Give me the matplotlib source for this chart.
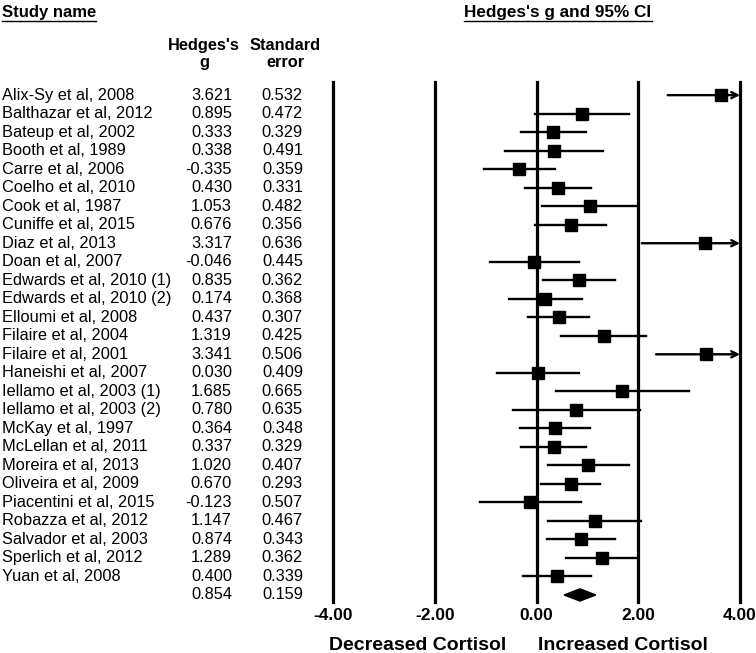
import matplotlib
matplotlib.use("Agg")
import matplotlib.pyplot as plt
from matplotlib.transforms import blended_transform_factory
from matplotlib.patches import Polygon
from matplotlib.lines import Line2D

plt.rcParams['font.family'] = ['Liberation Sans', 'DejaVu Sans']

# study data
studies = ["Alix-Sy et al, 2008", "Balthazar et al, 2012", "Bateup et al, 2002",
           "Booth et al, 1989", "Carre et al, 2006", "Coelho et al, 2010",
           "Cook et al, 1987", "Cuniffe et al, 2015", "Diaz et al, 2013",
           "Doan et al, 2007", "Edwards et al, 2010 (1)", "Edwards et al, 2010 (2)",
           "Elloumi et al, 2008", "Filaire et al, 2004", "Filaire et al, 2001",
           "Haneishi et al, 2007", "Iellamo et al, 2003 (1)", "Iellamo et al, 2003 (2)",
           "McKay et al, 1997", "McLellan et al, 2011", "Moreira et al, 2013",
           "Oliveira et al, 2009", "Piacentini et al, 2015", "Robazza et al, 2012",
           "Salvador et al, 2003", "Sperlich et al, 2012", "Yuan et al, 2008"]
hedges_g = [3.621, 0.895, 0.333, 0.338, -0.335, 0.430, 1.053, 0.676, 3.317,
            -0.046, 0.835, 0.174, 0.437, 1.319, 3.341, 0.030, 1.685, 0.780,
            0.364, 0.337, 1.020, 0.670, -0.123, 1.147, 0.874, 1.289, 0.400]
std_err = [0.532, 0.472, 0.329, 0.491, 0.359, 0.331, 0.482, 0.356, 0.636,
           0.445, 0.362, 0.368, 0.307, 0.425, 0.506, 0.409, 0.665, 0.635,
           0.348, 0.329, 0.407, 0.293, 0.507, 0.467, 0.343, 0.362, 0.339]
summary_g = 0.854
summary_se = 0.159
ticks = [-4, -2, 0, 2, 4]
tick_labels = ["-4.00", "-2.00", "0.00", "2.00", "4.00"]

W, H = 756, 653
fig = plt.figure(figsize=(W / 100, H / 100), dpi=100)
fig.patch.set_facecolor('white')

# axes placed in pixel terms: x=-4 at 333px, x=4 at 740px
ax = fig.add_axes([333 / W, 1 - 602 / H, 407 / W, 520 / H])
ax.set_xlim(-4, 4)
ax.set_ylim(27.38, -0.71)
for s in ax.spines.values():
    s.set_visible(False)
ax.set_yticks([])
ax.set_xticks(ticks)
ax.set_xticklabels(tick_labels, fontsize=12.5, fontweight='bold')
ax.tick_params(axis='x', length=0, pad=4)

for t in ticks:
    ax.axvline(t, color='black', lw=2.3, zorder=1, clip_on=False)

n = len(studies)
for i, (g, se) in enumerate(zip(hedges_g, std_err)):
    lo, hi = g - 1.96 * se, g + 1.96 * se
    if hi > 4:
        ax.annotate("", xy=(4, i), xytext=(lo, i),
                    arrowprops=dict(arrowstyle='->', lw=1.7, color='black',
                                    shrinkA=0, shrinkB=0, mutation_scale=11),
                    zorder=2)
    else:
        ax.plot([lo, hi], [i, i], color='black', lw=1.7, zorder=2)
    ax.plot(g, i, marker='s', color='black', markersize=9, zorder=3)

# summary diamond
lo, hi = summary_g - 1.96 * summary_se, summary_g + 1.96 * summary_se
ax.add_patch(Polygon([(lo, n), (summary_g, n - 0.33), (hi, n), (summary_g, n + 0.33)],
                     closed=True, color='black', zorder=3))

# text columns
tr = blended_transform_factory(fig.transFigure, ax.transData)
fs = 11.8
for i, name in enumerate(studies):
    ax.text(2 / W, i, name, transform=tr, ha='left', va='center', fontsize=fs, clip_on=False)
    ax.text(232 / W, i, f"{hedges_g[i]:.3f}", transform=tr, ha='right', va='center', fontsize=fs, clip_on=False)
    ax.text(303 / W, i, f"{std_err[i]:.3f}", transform=tr, ha='right', va='center', fontsize=fs, clip_on=False)
ax.text(232 / W, n, f"{summary_g:.3f}", transform=tr, ha='right', va='center', fontsize=fs, clip_on=False)
ax.text(303 / W, n, f"{summary_se:.3f}", transform=tr, ha='right', va='center', fontsize=fs, clip_on=False)

# column headers
fig.text(204 / W, 1 - 54 / H, "Hedges's\ng", ha='center', va='center', fontsize=fs,
         fontweight='bold', linespacing=1.1)
fig.text(285 / W, 1 - 54 / H, "Standard\nerror", ha='center', va='center', fontsize=fs,
         fontweight='bold', linespacing=1.1)
t1 = fig.text(2 / W, 1 - 12 / H, "Study name", ha='left', va='center', fontsize=12,
              fontweight='bold')
t2 = fig.text(558 / W, 1 - 12 / H, "Hedges's g and 95% CI", ha='center', va='center',
              fontsize=12.3, fontweight='bold')

# bottom labels
xt = blended_transform_factory(ax.transData, fig.transFigure)
ax.text(-0.6, 1 - 646 / H, "Decreased Cortisol", transform=xt, ha='right', va='center',
        fontsize=14, fontweight='bold', clip_on=False)
ax.text(0.02, 1 - 646 / H, "Increased Cortisol", transform=xt, ha='left', va='center',
        fontsize=14, fontweight='bold', clip_on=False)

# underline the two titles
fig.canvas.draw()
r = fig.canvas.get_renderer()
for t in (t1, t2):
    bb = t.get_window_extent(r)
    fig.add_artist(Line2D([bb.x0 / W, bb.x1 / W], [(bb.y0 - 1) / H] * 2,
                          color='black', lw=1.0, transform=fig.transFigure))

fig.savefig("out.png", dpi=100)
